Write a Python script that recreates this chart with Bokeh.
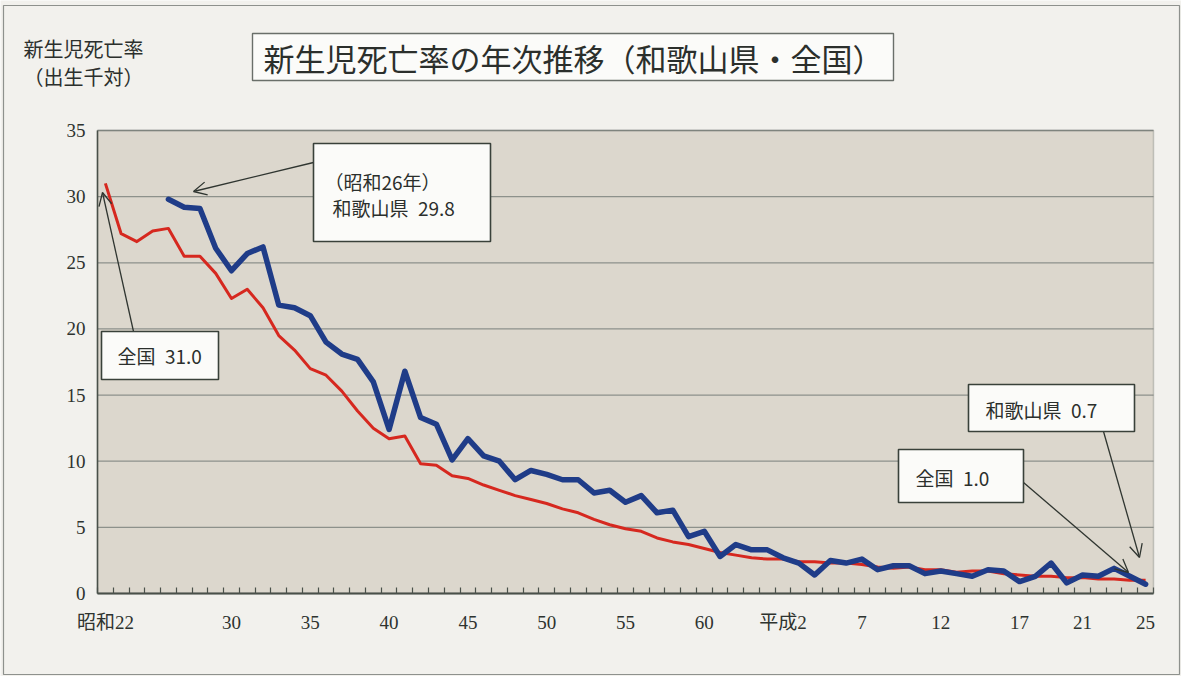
from bokeh.plotting import figure
from bokeh.models import Range1d, FixedTicker, Label, BoxAnnotation, Arrow, OpenHead
from bokeh.embed import file_html
from bokeh.resources import INLINE

years = list(range(1947, 2014))
national = [31.0, 27.2, 26.6, 27.4, 27.6, 25.5, 25.5, 24.2, 22.3, 23.0,
            21.6, 19.5, 18.4, 17.0, 16.5, 15.3, 13.8, 12.5, 11.7, 11.9,
            9.8, 9.7, 8.9, 8.7, 8.2, 7.8, 7.4, 7.1, 6.8, 6.4,
            6.1, 5.6, 5.2, 4.9, 4.7, 4.2, 3.9, 3.7, 3.4, 3.1,
            2.9, 2.7, 2.6, 2.6, 2.4, 2.4, 2.3, 2.3, 2.2, 2.0,
            1.9, 2.0, 1.8, 1.8, 1.6, 1.7, 1.7, 1.5, 1.4, 1.3,
            1.3, 1.2, 1.2, 1.1, 1.1, 1.0, 1.0]
wakayama_years = list(range(1951, 2014))
wakayama = [29.8, 29.2, 29.1, 26.1, 24.4, 25.7, 26.2, 21.8, 21.6, 21.0,
            19.0, 18.1, 17.7, 16.0, 12.4, 16.8, 13.3, 12.8, 10.1, 11.7,
            10.4, 10.0, 8.6, 9.3, 9.0, 8.6, 8.6, 7.6, 7.8, 6.9,
            7.4, 6.1, 6.3, 4.3, 4.7, 2.8, 3.7, 3.3, 3.3, 2.7,
            2.3, 1.4, 2.5, 2.3, 2.6, 1.8, 2.1, 2.1, 1.5, 1.7,
            1.5, 1.3, 1.8, 1.7, 0.9, 1.3, 2.3, 0.8, 1.4, 1.3,
            1.9, 1.3, 0.7]
tick_years = [1947, 1955, 1960, 1965, 1970, 1975, 1980, 1985, 1990, 1995, 2000, 2005, 2009, 2013]
tick_labels = ["昭和22", "30", "35", "40", "45", "50", "55", "60", "平成2", "7", "12", "17", "21", "25"]
y_ticks = [0, 5, 10, 15, 20, 25, 30, 35]

# canvas and plot-area layout (pixels)
W, H = 1181, 676
PL, PR, PT, PB = 97, 1153, 130, 593
X0, X1 = years[0] - 0.5, years[-1] + 0.5
Y0, Y1 = 0, 35
KX = (PR - PL) / (X1 - X0)
KY = (PB - PT) / (Y1 - Y0)
XS, XE = X0 - PL / KX, X1 + (W - PR) / KX
YS, YE = Y0 - (H - PB) / KY, Y1 + PT / KY

def dx(px):  # pixel -> data x
    return XS + px / KX

def dy(py):
    return YE - py / KY

JP = "Noto Sans CJK JP"
SERIF = "'Liberation Serif', 'Noto Sans CJK JP'"
INK = "#3f4740"
SP = "\u2002"

p = figure(width=W, height=H, output_backend="svg", toolbar_location=None,
           x_range=Range1d(XS, XE), y_range=Range1d(YS, YE),
           min_border=0, min_border_left=0, min_border_right=0,
           min_border_top=0, min_border_bottom=0)
p.background_fill_color = "#f2f1ed"
p.border_fill_color = "#f2f1ed"
p.outline_line_color = None

# plot area
p.add_layout(BoxAnnotation(left=X0, right=X1, bottom=Y0, top=Y1,
                           fill_color="#dcd7cd", fill_alpha=1.0,
                           line_color=None, level="underlay"))

p.xgrid.visible = False
p.ygrid.visible = False
grid_vals = y_ticks[1:]
p.segment(x0=[X0] * len(grid_vals), x1=[X1] * len(grid_vals), y0=grid_vals, y1=grid_vals,
          line_color="#8d918b", line_width=1.3)

xa = p.xaxis[0]
xa.fixed_location = Y0
xa.bounds = (X0, X1)
xa.ticker = FixedTicker(ticks=tick_years, minor_ticks=[y - 0.5 for y in years] + [years[-1] + 0.5])
xa.major_label_overrides = {y: t for y, t in zip(tick_years, tick_labels)}
xa.major_tick_line_color = None
xa.minor_tick_in = 6
xa.minor_tick_out = 0
xa.minor_tick_line_color = "#4a514b"
xa.minor_tick_line_width = 1.2
xa.axis_line_color = INK
xa.axis_line_width = 2
xa.major_label_text_font = SERIF
xa.major_label_text_font_size = "19px"
xa.major_label_text_color = "#2e332f"
xa.major_label_standoff = 12

ya = p.yaxis[0]
ya.fixed_location = X0
ya.bounds = (Y0, Y1)
ya.ticker = FixedTicker(ticks=y_ticks)
ya.major_tick_line_color = None
ya.minor_tick_line_color = None
ya.axis_line_color = INK
ya.axis_line_width = 1.5
ya.major_label_text_font = SERIF
ya.major_label_text_font_size = "19px"
ya.major_label_text_color = "#2e332f"
ya.major_label_standoff = 6

p.line(years, national, line_color="#d6281f", line_width=3, line_join="round")
p.line(wakayama_years, wakayama, line_color="#1f3c88", line_width=5.5,
       line_join="round", line_cap="round")

# plot-area border (top/right)
p.add_layout(BoxAnnotation(left=X0, right=X1, bottom=Y0, top=Y1, fill_alpha=0.0,
                           line_color="#5f665f", line_width=1.5, level="guide"))

def box(l, t, r, b, lw=1.6, color="#39413a", fill=1.0):
    p.add_layout(BoxAnnotation(left=dx(l), right=dx(r), top=dy(t), bottom=dy(b),
                               fill_color="#fbfbf9", fill_alpha=fill,
                               line_color=color, line_width=lw, line_alpha=1.0,
                               level="overlay"))

def text(s, x, y, size="19px", align="left", font=JP):
    p.add_layout(Label(x=dx(x), y=dy(y), text=s, text_font=font, text_font_size=size,
                       text_color="#2b2f2c", text_align=align, text_baseline="middle",
                       level="overlay"))

def arrow(x1, y1, x2, y2):
    p.add_layout(Arrow(x_start=dx(x1), y_start=dy(y1), x_end=dx(x2), y_end=dy(y2),
                       line_color="#2f3530", line_width=1.3,
                       end=OpenHead(size=13, line_color="#2f3530", line_width=1.3),
                       level="overlay"))

# outer frame
box(3, 5, 1179, 674, lw=1.2, color="#8e918d", fill=0.0)

# title
box(252, 33, 893, 80, lw=1.4, color="#6a6f6a")
text("新生児死亡率の年次推移（和歌山県・全国）", 573, 57, size="31px", align="center")

# y axis title
text("新生児死亡率", 23, 48, size="20px")
text("（出生千対）", 23, 76, size="20px")

# annotations
arrow(313, 162, 193, 191)
box(313, 143, 490, 241)
text("（昭和26年）", 324, 181)
text("和歌山県" + SP + "29.8", 332, 207)

arrow(133, 331, 102, 192)
box(101, 331, 218, 379)
text("全国" + SP + "31.0", 117, 355)

arrow(1103, 431, 1139, 557)
box(968, 384, 1134, 431)
text("和歌山県" + SP + "0.7", 985, 409)

arrow(1023, 482, 1128, 572)
box(898, 449, 1023, 502)
text("全国" + SP + "1.0", 915, 477)

open("out.html", "w").write(file_html(p, INLINE))
